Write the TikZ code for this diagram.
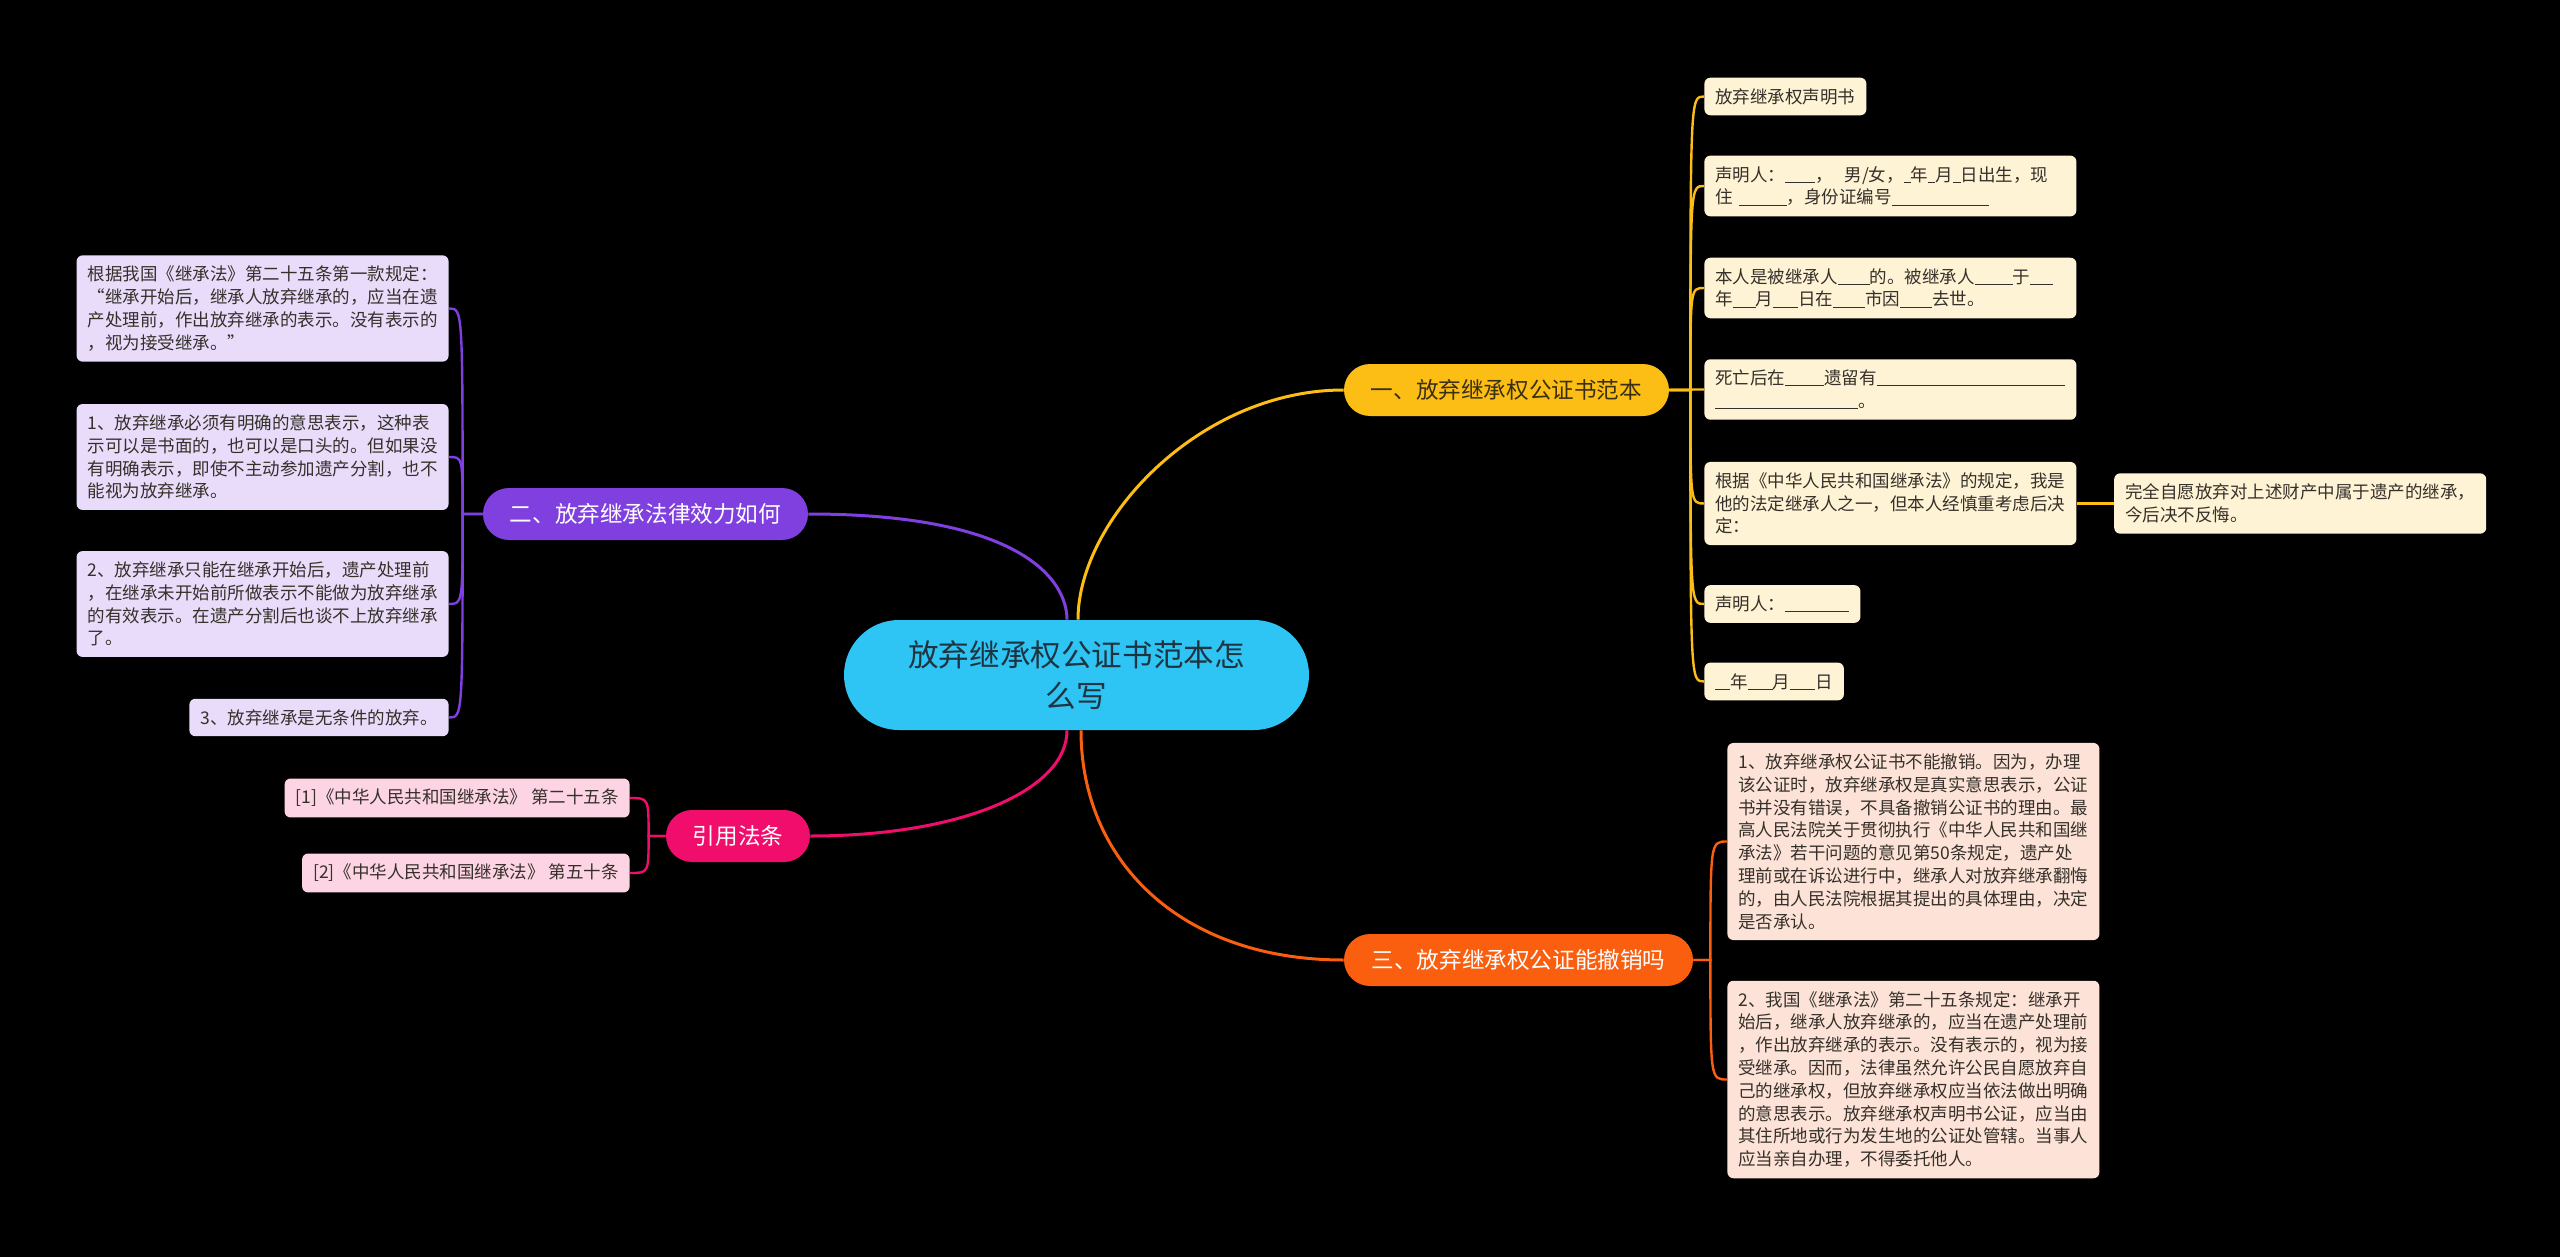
\documentclass[tikz,border=0pt]{standalone}
\usepackage{fontspec}
\setmainfont{Noto Sans CJK SC}
\usepackage{xcolor}
\usepackage{tikz}
\usetikzlibrary{positioning}
\setlength{\parindent}{0pt}

\definecolor{rootcyan}{HTML}{2EC4F3}
\definecolor{roottext}{HTML}{1F3440}
\definecolor{tpyellow}{HTML}{FCBE14}
\definecolor{tpyellowtext}{HTML}{3B2F12}
\definecolor{tppurple}{HTML}{8040E0}
\definecolor{tppink}{HTML}{F00D6C}
\definecolor{tporange}{HTML}{FA5F10}
\definecolor{lfyellow}{HTML}{FFF3D5}
\definecolor{lfpurple}{HTML}{E8DCFA}
\definecolor{lfpink}{HTML}{FDD4E4}
\definecolor{lforange}{HTML}{FDE3D7}
\definecolor{lftext}{HTML}{35302A}

% blank to fill in, width given in pixels of the sheet
\newcommand{\fillin}[1]{\rule[-0.1em]{#1\dimexpr0.5pt\relax}{0.45pt}}

\begin{document}
\begin{tikzpicture}[x=0.5pt, y=-0.5pt,
    root/.style={rectangle, rounded corners=27.5pt, fill=rootcyan, text=roottext, minimum width=232.5pt, minimum height=55pt, align=center, font=\fontsize{15.3pt}{20.8pt}\selectfont},
    topic/.style={rectangle, rounded corners=13pt, minimum height=26pt, inner xsep=2pt, inner ysep=0pt, font=\fontsize{11.3pt}{14pt}\selectfont},
    leaf/.style={rectangle, rounded corners=3pt, inner xsep=5.5pt, inner ysep=5.3pt, align=left, text=lftext, font=\fontsize{8.75pt}{11.4pt}\selectfont},
    wide/.style={text width=175pt},
    link/.style={line width=1.5pt},
    twig/.style={line width=1.2pt}]

    \useasboundingbox (0,0) rectangle (2560,1257);
    \fill[black] (0,0) rectangle (2560,1257);

    % Nodes
    \node [root] (c) at (1076.5,675) {放弃继承权公证书范本怎\\么写};

    \node [topic, fill=tpyellow, text=tpyellowtext, minimum width=162.5pt] (yb) at (1506.5,390) {一、放弃继承权公证书范本};
    \node [topic, fill=tppurple, text=white, minimum width=162.5pt] (pb) at (645.5,514) {二、放弃继承法律效力如何};
    \node [topic, fill=tppink, text=white, minimum width=72pt] (kb) at (738,836) {引用法条};
    \node [topic, fill=tporange, text=white, minimum width=174.5pt] (ob) at (1518.5,960) {三、放弃继承权公证能撤销吗};

    \node [leaf, fill=lfyellow, anchor=west] (y1) at (1704,96.5) {放弃继承权声明书};
    \node [leaf, wide, fill=lfyellow, anchor=west] (y2) at (1704,186) {声明人：\fillin{30}，~~男/女，\fillin{7}年\fillin{7}月\fillin{8}日出生，现\\住~\fillin{48}，身份证编号\fillin{97}};
    \node [leaf, wide, fill=lfyellow, anchor=west] (y3) at (1704,288) {本人是被继承人\fillin{32}的。被继承人\fillin{38}于\fillin{23}\\年\fillin{23}月\fillin{25}日在\fillin{32}市因\fillin{32}去世。};
    \node [leaf, wide, fill=lfyellow, anchor=west] (y4) at (1704,389.5) {死亡后在\fillin{39}遗留有\fillin{188}\\\fillin{143}。};
    \node [leaf, wide, fill=lfyellow, anchor=west] (y5) at (1704,503.5) {根据《中华人民共和国继承法》的规定，我是\\他的法定继承人之一，但本人经慎重考虑后决\\定：};
    \node [leaf, wide, fill=lfyellow, right=18.5pt of y5] (y5a) {完全自愿放弃对上述财产中属于遗产的继承，\\今后决不反悔。};
    \node [leaf, fill=lfyellow, anchor=west] (y6) at (1704,604) {声明人：\fillin{64}};
    \node [leaf, fill=lfyellow, anchor=west] (y7) at (1704,681.5) {\fillin{15}年\fillin{25}月\fillin{25}日};

    \node [leaf, wide, fill=lforange, anchor=west] (o1) at (1727,841.5) {1、放弃继承权公证书不能撤销。因为，办理\\该公证时，放弃继承权是真实意思表示，公证\\书并没有错误，不具备撤销公证书的理由。最\\高人民法院关于贯彻执行《中华人民共和国继\\承法》若干问题的意见第50条规定，遗产处\\理前或在诉讼进行中，继承人对放弃继承翻悔\\的，由人民法院根据其提出的具体理由，决定\\是否承认。};
    \node [leaf, wide, fill=lforange, anchor=west] (o2) at (1727,1079.5) {2、我国《继承法》第二十五条规定：继承开\\始后，继承人放弃继承的，应当在遗产处理前\\，作出放弃继承的表示。没有表示的，视为接\\受继承。因而，法律虽然允许公民自愿放弃自\\己的继承权，但放弃继承权应当依法做出明确\\的意思表示。放弃继承权声明书公证，应当由\\其住所地或行为发生地的公证处管辖。当事人\\应当亲自办理，不得委托他人。};

    \node [leaf, wide, fill=lfpurple, anchor=east] (p1) at (449,308.5) {根据我国《继承法》第二十五条第一款规定：\\“继承开始后，继承人放弃继承的，应当在遗\\产处理前，作出放弃继承的表示。没有表示的\\，视为接受继承。”};
    \node [leaf, wide, fill=lfpurple, anchor=east] (p2) at (449,457) {1、放弃继承必须有明确的意思表示，这种表\\示可以是书面的，也可以是口头的。但如果没\\有明确表示，即使不主动参加遗产分割，也不\\能视为放弃继承。};
    \node [leaf, wide, fill=lfpurple, anchor=east] (p3) at (449,604) {2、放弃继承只能在继承开始后，遗产处理前\\，在继承未开始前所做表示不能做为放弃继承\\的有效表示。在遗产分割后也谈不上放弃继承\\了。};
    \node [leaf, fill=lfpurple, anchor=east] (p4) at (449,717.5) {3、放弃继承是无条件的放弃。};

    \node [leaf, fill=lfpink, anchor=east] (k1) at (630,798) {[1]《中华人民共和国继承法》 第二十五条};
    \node [leaf, fill=lfpink, anchor=east] (k2) at (630,873) {[2]《中华人民共和国继承法》 第五十条};

    % Connectors
    \draw [link, tpyellow] ([xshift=0.75pt]c.north) .. controls +(0,-100) and +(-144,0) .. (yb.west);
    \draw [link, tppurple] ([xshift=-4.75pt]c.north) .. controls +(0,-40) and +(212,0) .. (pb.east);
    \draw [link, tppink] ([xshift=-4.75pt]c.south) .. controls +(0,60) and +(151,0) .. (kb.east);
    \draw [link, tporange] ([xshift=2.25pt]c.south) .. controls +(0,130) and +(-164,0) .. (ob.west);

    % junctions where the leaf lines split
    \coordinate (yj) at ([xshift=10.5pt]yb.east);
    \coordinate (oj) at ([xshift=8.5pt]ob.east);
    \coordinate (pj) at ([xshift=-10pt]pb.west);
    \coordinate (kj) at ([xshift=-8.5pt]kb.west);

    \foreach \leaf in {y1,y2,y3,y4,y5,y6,y7}
        \draw [twig, tpyellow] (yb.east) -- (yj) .. controls (yj |- \leaf.west) .. (\leaf.west);
    \draw [twig, tpyellow] (y5) -- (y5a);
    \foreach \leaf in {o1,o2}
        \draw [twig, tporange] (ob.east) -- (oj) .. controls (oj |- \leaf.west) .. (\leaf.west);
    \foreach \leaf in {p1,p2,p3,p4}
        \draw [twig, tppurple] (pb.west) -- (pj) .. controls (pj |- \leaf.east) .. (\leaf.east);
    \foreach \leaf in {k1,k2}
        \draw [twig, tppink] (kb.west) -- (kj) .. controls (kj |- \leaf.east) .. (\leaf.east);

\end{tikzpicture}
\end{document}
